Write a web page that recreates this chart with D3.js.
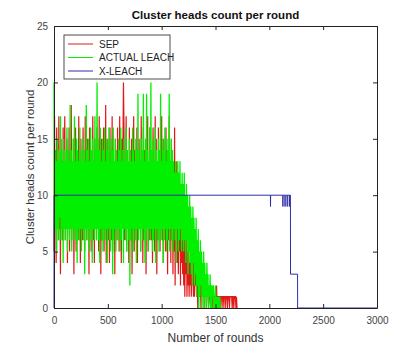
<!DOCTYPE html>
<html>
<head>
<meta charset="utf-8">
<script src="https://cdn.jsdelivr.net/npm/d3@7"></script>
<style>
body{margin:0;background:#fff;}
text{font-family:"Liberation Sans",Arial,sans-serif;}
.tick text{fill:#444;font-size:10px;}
</style>
</head>
<body>
<div id="chart"></div>
<script>
// rounds are sampled every 5 rounds for the two noisy series
let roundStep = 5;

// SEP cluster heads per round (0..1700)
let sepValues = [
5,17,8,14,4,16,9,13,6,17,7,12,3,15,8,13,6,16,9,12,
17,6,13,8,15,4,12,9,16,5,13,7,18,6,12,8,15,3,13,7,
16,5,12,9,14,6,17,7,13,4,15,8,12,6,16,9,13,5,17,7,
12,6,15,8,13,3,16,7,14,5,12,9,17,6,13,4,15,8,12,6,
16,7,13,5,17,8,12,3,15,6,14,9,16,5,13,7,18,4,12,8,
15,6,13,4,16,8,12,6,17,5,14,9,13,3,15,7,12,6,16,8,
13,5,17,7,12,4,15,8,14,20,16,6,13,9,17,5,14,7,12,4,
16,8,13,6,15,3,12,7,17,5,14,8,13,6,16,4,12,9,15,7,
13,5,17,8,12,4,16,6,14,7,13,3,15,9,17,5,12,6,16,8,
14,6,13,4,16,7,12,5,17,8,15,3,13,6,16,9,12,5,14,7,
17,6,13,4,15,8,12,5,16,7,14,3,13,6,17,8,12,4,15,6,
13,3,12,5,16,2,11,6,13,4,10,3,12,5,9,2,11,4,8,3,
7,2,9,1,6,3,8,1,5,2,7,1,4,2,6,1,3,2,5,1,
4,1,3,2,5,1,3,0,2,1,4,1,2,0,3,1,2,1,3,0,
2,1,3,0,2,1,2,0,1,2,1,0,2,1,1,0,2,1,1,0,
1,1,2,0,1,1,1,0,1,1,0,1,1,1,0,1,1,1,0,1,
1,1,0,1,1,1,0,1,1,1,1,0,1,1,0,1,1,1,0,1,0
];

// ACTUAL LEACH cluster heads per round (0..1550)
let leachValues = [
20,6,14,7,13,5,15,7,14,6,13,8,17,6,14,7,13,4,15,7,
14,6,13,7,16,5,14,7,13,6,18,7,14,5,13,7,15,6,17,7,
13,6,15,4,14,7,13,6,16,7,14,5,13,7,15,6,14,3,13,7,
18,6,14,7,15,5,13,7,16,6,14,4,15,7,13,6,17,7,14,6,
20,7,15,6,14,4,16,7,13,6,15,5,14,7,16,6,13,7,15,4,
14,7,16,6,13,5,15,7,14,3,16,6,13,7,15,5,14,7,13,6,
15,7,14,5,16,6,13,7,14,4,15,7,13,6,16,5,14,7,13,6,
15,2,14,6,13,7,16,5,14,7,13,6,15,4,14,7,19,6,14,7,
13,5,15,7,14,6,19,7,13,4,15,6,19,7,14,5,13,7,16,6,
20,7,14,5,15,6,13,7,16,4,14,7,13,6,15,5,14,7,19,6,
13,7,15,4,14,6,16,7,13,5,15,6,14,7,19,5,13,7,15,6,
14,5,13,7,12,6,13,4,12,7,13,5,12,6,13,7,11,5,12,6,
11,5,12,6,10,4,11,6,10,3,9,5,10,4,9,3,8,2,9,4,
8,2,7,3,8,1,6,2,7,0,5,1,6,2,5,0,4,1,5,0,
4,1,3,0,4,1,3,0,2,1,3,0,2,0,2,1,2,0,1,0,
2,0,1,0,1,0,1,0,1,0,0
];

// X-LEACH is a step curve, so keep its break points
let xleachRounds = [0,1,2010,2011,2012,2125,2126,2127,2145,2146,2147,2165,2166,2167,2185,2186,2187,2196,2197,2262,2263,3000];
let xleachValues = [0,10,10,9,10,10,9,10,10,9,10,10,9,10,10,9,10,10,3,3,0,0];

let xTicks = [0,500,1000,1500,2000,2500,3000];
let yTicks = [0,5,10,15,20,25];
let seriesNames = ["SEP","ACTUAL LEACH","X-LEACH"];
let seriesColors = ["#e01818","#00f000","#2e2ea8"];
let seriesWidths = [1.2,1.3,1];

let W = 417, H = 347;
let margin = {top:26, left:54, right:40, bottom:39};
let width = W - margin.left - margin.right, height = H - margin.top - margin.bottom;

let svg = d3.select('#chart').append('svg').attr('width',W).attr('height',H);
let g = svg.append('g').attr('transform','translate('+margin.left+','+margin.top+')');

let x = d3.scaleLinear().domain([0,3000]).range([0,width]);
let y = d3.scaleLinear().domain([0,25]).range([height,0]);

let toPoints = (vals)=>vals.map((v,i)=>[i*roundStep, v]);
let sepData = toPoints(sepValues);
let leachData = toPoints(leachValues);
let xleachData = xleachRounds.map((r,i)=>[r, xleachValues[i]]);

let line = d3.line()
    .x(function(d){ return x(d[0]); })
    .y(function(d){ return y(d[1]); });

// draw the three series, same order as the legend
[sepData, leachData, xleachData].forEach(function(data,i){
    g.append('path').datum(data)
        .attr('fill','none')
        .attr('stroke',seriesColors[i])
        .attr('stroke-width',seriesWidths[i])
        .attr('d',line);
});

// matlab style box with inward ticks on all sides
let tickLen = -4;
let fmt = d3.format('d');
g.append('g').attr('class','axis').attr('transform','translate(0,'+height+')')
    .call(d3.axisBottom(x).tickValues(xTicks).tickFormat(fmt).tickSizeInner(tickLen).tickSizeOuter(0).tickPadding(9));
g.append('g').attr('class','axis')
    .call(d3.axisLeft(y).tickValues(yTicks).tickFormat(fmt).tickSizeInner(tickLen).tickSizeOuter(0).tickPadding(6));
g.append('g').attr('class','axis')
    .call(d3.axisTop(x).tickValues(xTicks).tickSizeInner(tickLen).tickSizeOuter(0).tickFormat(''));
g.append('g').attr('class','axis').attr('transform','translate('+width+',0)')
    .call(d3.axisRight(y).tickValues(yTicks).tickSizeInner(tickLen).tickSizeOuter(0).tickFormat(''));
g.selectAll('.axis .domain').attr('stroke','#222');
g.selectAll('.axis .tick line').attr('stroke','#222');

// titles
svg.append('text').attr('x',margin.left+width/2).attr('y',19).attr('text-anchor','middle')
    .attr('font-size','11.5px').attr('font-weight','bold').attr('fill','#111').text('Cluster heads count per round');
svg.append('text').attr('x',margin.left+width/2).attr('y',342).attr('text-anchor','middle')
    .attr('font-size','12px').attr('fill','#333').text('Number of rounds');
svg.append('text').attr('transform','translate(34,'+(margin.top+height/2)+') rotate(-90)').attr('text-anchor','middle')
    .attr('font-size','11.5px').attr('fill','#333').text('Cluster heads count per round');

// legend
let legend = g.append('g').attr('transform','translate(10,9)');
legend.append('rect').attr('width',106).attr('height',44).attr('fill','#fff').attr('stroke','#222').attr('stroke-width',0.8);
seriesNames.forEach(function(name,i){
    let ly = 9 + i*13.5;
    legend.append('line').attr('x1',4).attr('x2',29).attr('y1',ly).attr('y2',ly).attr('stroke',seriesColors[i]);
    legend.append('text').attr('x',35).attr('y',ly+3.5).attr('font-size','10px').attr('fill','#222').text(name);
});
</script>
</body>
</html>
